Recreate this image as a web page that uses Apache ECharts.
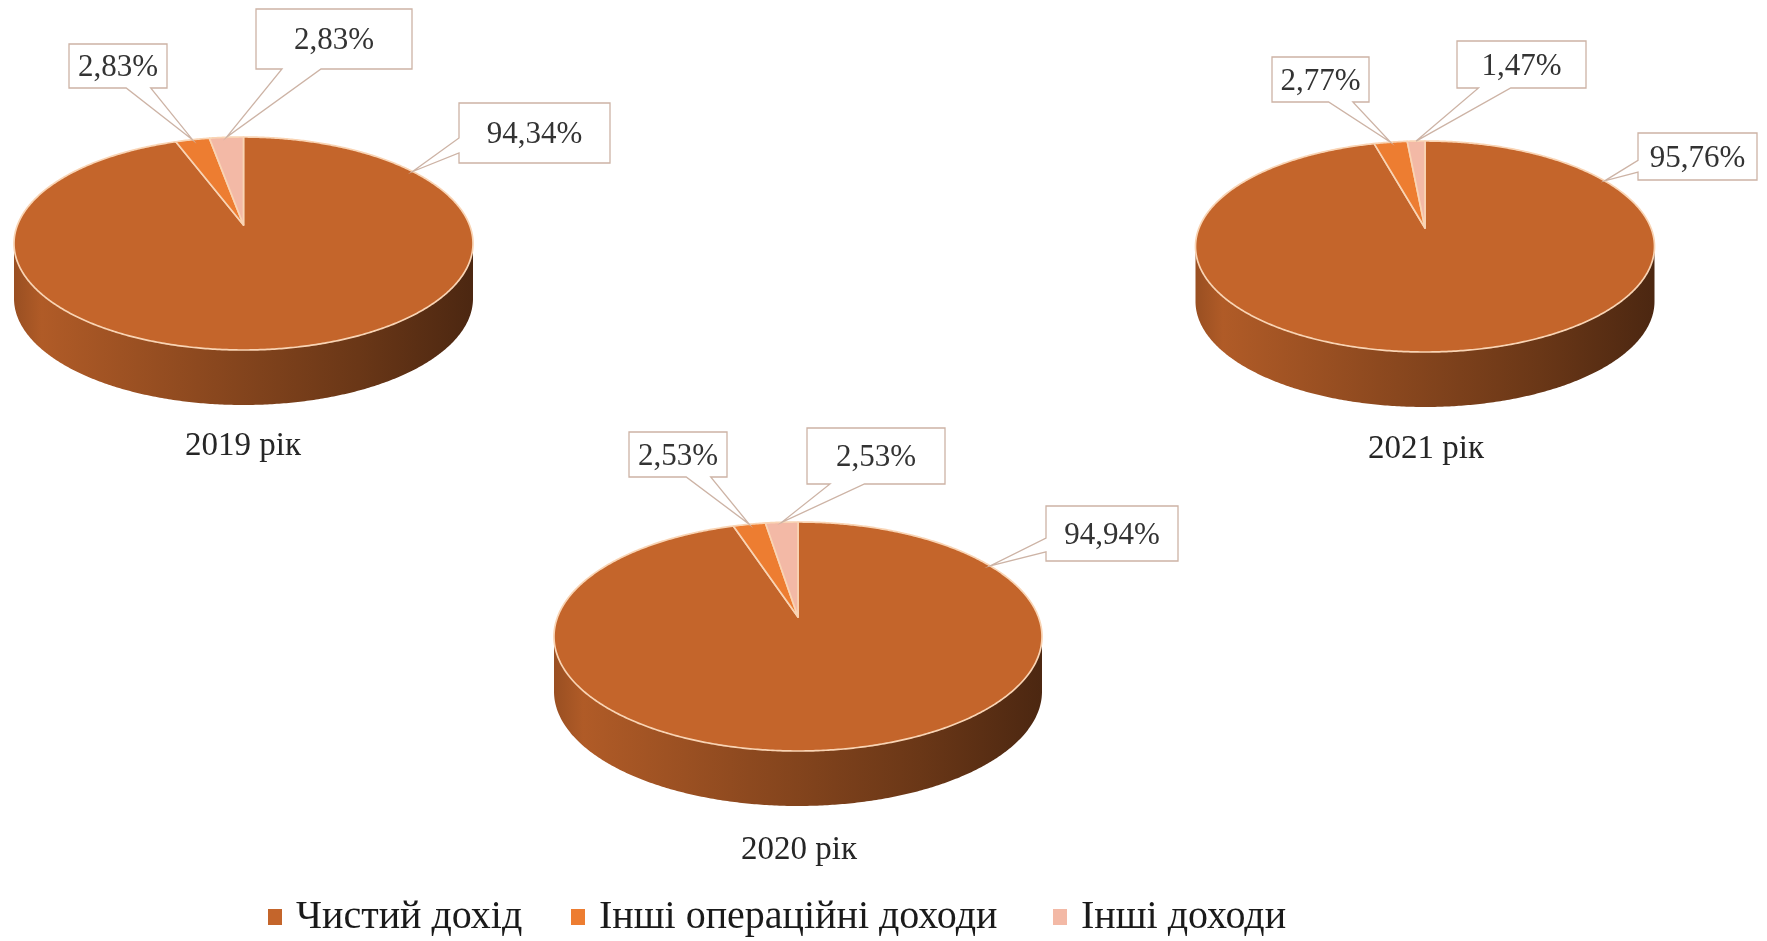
<!DOCTYPE html>
<html>
<head>
<meta charset="utf-8">
<script src="https://cdn.jsdelivr.net/npm/echarts@6/dist/echarts.min.js"></script>
<style>
  html, body { margin: 0; padding: 0; background: #ffffff; }
  #chart { width: 1767px; height: 941px; }
</style>
</head>
<body>
<div id="chart"></div>
<script>
// ---- data ----
const years = ['2019 рік', '2020 рік', '2021 рік'];
const categories = ['Чистий дохід', 'Інші операційні доходи', 'Інші доходи'];
const netIncome = [94.34, 94.94, 95.76];
const otherOperating = [2.83, 2.53, 2.77];
const otherIncome = [2.83, 2.53, 1.47];
const seriesValues = [netIncome, otherOperating, otherIncome];

// ---- layout & style ----
// each pie: projected centre, half width, far / near radius of the top face, wall height
const pieLayout = [
  { cx: 243.5, cy: 225, halfW: 229.5, far: 88, near: 125, depth: 55, labelX: 243, labelY: 446 },
  { cx: 798, cy: 617, halfW: 244, far: 95, near: 134, depth: 55, labelX: 799, labelY: 850 },
  { cx: 1425, cy: 228, halfW: 229.5, far: 87, near: 124, depth: 55, labelX: 1426, labelY: 449 }
];
// callout boxes [x0, y0, x1, y1] per pie, per category
const calloutBoxes = [
  [[459, 103, 610, 163], [69, 44, 167, 88], [256, 9, 412, 69]],
  [[1046, 506, 1178, 561], [629, 432, 727, 477], [807, 428, 945, 484]],
  [[1638, 133, 1757, 180], [1272, 57, 1369, 102], [1457, 41, 1586, 88]]
];
const topColors = ['#C4652B', '#ED7D31', '#F3B9A6'];
const legendLeft = [263, 566, 1048];
const serifFamily = 'Liberation Serif';
const serifFont = '"Liberation Serif", serif';

function shade(hex, f) {
  const n = parseInt(hex.slice(1), 16);
  const r = Math.round(((n >> 16) & 255) * f);
  const g = Math.round(((n >> 8) & 255) * f);
  const b = Math.round((n & 255) * f);
  return 'rgb(' + r + ',' + g + ',' + b + ')';
}

// perspective model of a tilted disc
function geom(p) {
  const r = p.near / p.far;
  const k = (r - 1) / (r + 1);
  return { k: k, A: p.halfW * Math.sqrt(1 - k * k), B: p.far * (1 + k) };
}
// angle in degrees, clockwise from the far point (12 o'clock)
function proj(p, g, deg, drop) {
  const a = deg * Math.PI / 180;
  const u = Math.sin(a), v = -Math.cos(a);
  const w = 1 - g.k * v;
  return [p.cx + g.A * u / w, p.cy + g.B * v / w + (drop || 0)];
}

function fmt(v) {
  return v.toFixed(2).replace('.', ',') + '%';
}

function calloutOutline(box, tip) {
  const x0 = box[0], y0 = box[1], x1 = box[2], y1 = box[3];
  const w = x1 - x0, h = y1 - y0;
  const dx = tip[0] - (x0 + x1) / 2, dy = tip[1] - (y0 + y1) / 2;
  if (Math.abs(dx) / w > Math.abs(dy) / h) {
    const ya = dy < 0 ? y0 + h * 2 / 12 : y0 + h * 7 / 12;
    const yb = dy < 0 ? y0 + h * 5 / 12 : y0 + h * 10 / 12;
    if (dx < 0) return [[x0, y0], [x1, y0], [x1, y1], [x0, y1], [x0, yb], tip, [x0, ya]];
    return [[x0, y0], [x1, y0], [x1, ya], tip, [x1, yb], [x1, y1], [x0, y1]];
  }
  const xa = dx < 0 ? x0 + w * 2 / 12 : x0 + w * 7 / 12;
  const xb = dx < 0 ? x0 + w * 5 / 12 : x0 + w * 10 / 12;
  if (dy < 0) return [[x0, y0], [xa, y0], tip, [xb, y0], [x1, y0], [x1, y1], [x0, y1]];
  return [[x0, y0], [x1, y0], [x1, y1], [xb, y1], tip, [xa, y1], [x0, y1]];
}

function makeRenderItem(ci) {
  return function (params, api) {
    const yi = api.value(0);
    const val = api.value(1);
    const p = pieLayout[yi];
    const g = geom(p);
    let total = 0, before = 0;
    for (let c = 0; c < seriesValues.length; c++) {
      total += seriesValues[c][yi];
      if (c < ci) before += seriesValues[c][yi];
    }
    const a0 = before / total * 360;
    const a1 = (before + val) / total * 360;
    const children = [];

    // front wall (only the part facing the viewer)
    const visA = Math.acos(-g.k) * 180 / Math.PI;
    const visB = 360 - visA;
    const s0 = Math.max(a0, visA), s1 = Math.min(a1, visB);
    if (s1 > s0) {
      const wall = [];
      for (let d = s0; d <= s1; d += 0.5) wall.push(proj(p, g, d, 0));
      wall.push(proj(p, g, s1, 0));
      for (let d = s1; d >= s0; d -= 0.5) wall.push(proj(p, g, d, p.depth));
      wall.push(proj(p, g, s0, p.depth));
      const base = topColors[ci];
      children.push({
        type: 'polygon',
        z2: 1,
        shape: { points: wall },
        style: {
          fill: {
            type: 'linear', global: true,
            x: p.cx - p.halfW, y: 0, x2: p.cx + p.halfW, y2: 0,
            colorStops: [
              { offset: 0, color: shade(base, 0.78) },
              { offset: 0.06, color: shade(base, 0.9) },
              { offset: 0.4, color: shade(base, 0.72) },
              { offset: 0.75, color: shade(base, 0.54) },
              { offset: 1, color: shade(base, 0.39) }
            ]
          }
        }
      });
    }

    // top face
    const apex = [p.cx, p.cy];
    const top = [apex];
    for (let d = a0; d < a1; d += 0.5) top.push(proj(p, g, d, 0));
    top.push(proj(p, g, a1, 0));
    children.push({
      type: 'polygon',
      z2: 2,
      shape: { points: top },
      style: { fill: topColors[ci], stroke: '#F9D4B4', lineWidth: 1.7, lineJoin: 'round' }
    });

    // callout with a wedge pointing at the slice
    const box = calloutBoxes[yi][ci];
    const bcx = (box[0] + box[2]) / 2, bcy = (box[1] + box[3]) / 2;
    const du = (bcx - p.cx) / g.A, dv = (bcy - p.cy) / g.B;
    let phi = Math.atan2(du, -dv) * 180 / Math.PI;
    if (phi < 0) phi += 360;
    const span = a1 - a0;
    const m = Math.min(span / 2, 15);
    phi = Math.min(Math.max(phi, a0 + m), a1 - m);
    const tip = proj(p, g, phi, 0);
    children.push({
      type: 'polygon',
      z2: 10,
      shape: { points: calloutOutline(box, tip) },
      style: { fill: '#ffffff', stroke: '#CDB3A5', lineWidth: 1.3 }
    });
    children.push({
      type: 'text',
      z2: 11,
      style: {
        legacy: false,
        text: fmt(val),
        x: bcx, y: bcy + 2,
        align: 'center', verticalAlign: 'middle',
        font: '31px ' + serifFont,
        fill: '#333333'
      }
    });

    // year caption under each pie
    if (ci === 0) {
      children.push({
        type: 'text',
        z2: 11,
        style: {
          legacy: false,
          text: years[yi],
          x: p.labelX, y: p.labelY,
          align: 'center', verticalAlign: 'middle',
          font: '33px ' + serifFont,
          fill: '#262626'
        }
      });
    }
    return { type: 'group', children: children };
  };
}

const chart = echarts.init(document.getElementById('chart'), null, { renderer: 'canvas' });
chart.setOption({
  animation: false,
  backgroundColor: '#ffffff',
  color: topColors,
  legend: categories.map(function (name, i) {
    return {
      data: [name],
      left: legendLeft[i],
      top: 890,
      icon: 'path://M0 0H14V16H0Z M22.9 8H23',
      itemWidth: 23,
      itemHeight: 16,
      selectedMode: false,
      textStyle: { fontFamily: serifFamily, fontSize: 40, lineHeight: 44, color: '#1a1a1a' }
    };
  }),
  series: categories.map(function (name, ci) {
    return {
      type: 'custom',
      name: name,
      coordinateSystem: 'none',
      itemStyle: { color: topColors[ci] },
      renderItem: makeRenderItem(ci),
      data: years.map(function (y, yi) { return [yi, seriesValues[ci][yi]]; })
    };
  })
});
</script>
</body>
</html>
